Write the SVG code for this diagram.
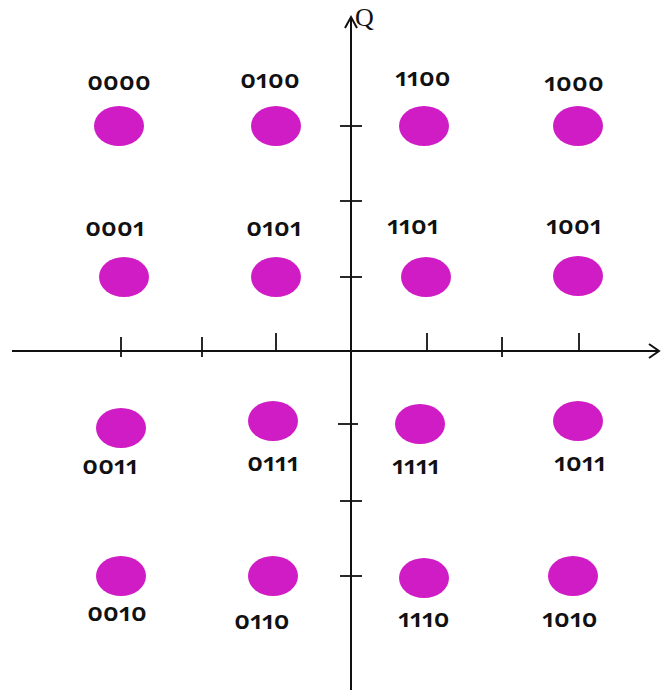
<svg xmlns="http://www.w3.org/2000/svg" width="663" height="692" viewBox="0 0 663 692">
<style>
.pt{fill:#D01CC4}
.lb{font-family:"Noto Sans","Open Sans",sans-serif;font-size:26px;font-weight:600;fill:#111;text-anchor:middle;font-feature-settings:"onum" 1,"pnum" 1;font-variant-numeric:oldstyle-nums proportional-nums;letter-spacing:0.3px}
.ax{stroke:#111;stroke-width:2;fill:none}
.tk{stroke:#111;stroke-width:1.8}
</style>
<rect width="663" height="692" fill="#fff"/>
<g id="axes" class="ax">
<line x1="12" y1="351" x2="659" y2="351"/>
<polyline points="649,344 659,351 649,358"/>
<line x1="351" y1="690" x2="351" y2="17"/>
<polyline points="345,28 351,17 357,28"/>
<g class="tk">
<line x1="121" y1="337" x2="121" y2="357"/>
<line x1="202" y1="337" x2="202" y2="357"/>
<line x1="276" y1="333" x2="276" y2="352"/>
<line x1="427" y1="333" x2="427" y2="352"/>
<line x1="502" y1="337" x2="502" y2="357"/>
<line x1="579" y1="333" x2="579" y2="352"/>
<line x1="340" y1="126" x2="362" y2="126"/>
<line x1="340" y1="201" x2="362" y2="201"/>
<line x1="340" y1="277" x2="362" y2="277"/>
<line x1="338" y1="424" x2="358" y2="424"/>
<line x1="340" y1="501" x2="362" y2="501"/>
<line x1="340" y1="576" x2="362" y2="576"/>
</g>
</g>
<text x="355" y="26" font-family="Liberation Serif,serif" font-size="26" fill="#111">Q</text>
<g id="p0000"><ellipse class="pt" cx="119" cy="126" rx="25" ry="20"/><text class="lb" x="119" y="90">0000</text></g>
<g id="p0100"><ellipse class="pt" cx="276" cy="126" rx="25" ry="20"/><text class="lb" x="270" y="88">0100</text></g>
<g id="p1100"><ellipse class="pt" cx="424" cy="126" rx="25" ry="20"/><text class="lb" x="423" y="86">1100</text></g>
<g id="p1000"><ellipse class="pt" cx="578" cy="126" rx="25" ry="20"/><text class="lb" x="574" y="91">1000</text></g>
<g id="p0001"><ellipse class="pt" cx="124" cy="277" rx="25" ry="20"/><text class="lb" x="115" y="236">0001</text></g>
<g id="p0101"><ellipse class="pt" cx="276" cy="277" rx="25" ry="20"/><text class="lb" x="274" y="236">0101</text></g>
<g id="p1101"><ellipse class="pt" cx="426" cy="277" rx="25" ry="20"/><text class="lb" x="413" y="234">1101</text></g>
<g id="p1001"><ellipse class="pt" cx="578" cy="276" rx="25" ry="20"/><text class="lb" x="574" y="234">1001</text></g>
<g id="p0011"><ellipse class="pt" cx="121" cy="428" rx="25" ry="20"/><text class="lb" x="110" y="474">0011</text></g>
<g id="p0111"><ellipse class="pt" cx="273" cy="421" rx="25" ry="20"/><text class="lb" x="273" y="471">0111</text></g>
<g id="p1111"><ellipse class="pt" cx="420" cy="424" rx="25" ry="20"/><text class="lb" x="416" y="474">1111</text></g>
<g id="p1011"><ellipse class="pt" cx="578" cy="421" rx="25" ry="20"/><text class="lb" x="580" y="471">1011</text></g>
<g id="p0010"><ellipse class="pt" cx="121" cy="576" rx="25" ry="20"/><text class="lb" x="117" y="621">0010</text></g>
<g id="p0110"><ellipse class="pt" cx="273" cy="576" rx="25" ry="20"/><text class="lb" x="262" y="629">0110</text></g>
<g id="p1110"><ellipse class="pt" cx="424" cy="578" rx="25" ry="20"/><text class="lb" x="424" y="627">1110</text></g>
<g id="p1010"><ellipse class="pt" cx="573" cy="576" rx="25" ry="20"/><text class="lb" x="570" y="627">1010</text></g>
</svg>
